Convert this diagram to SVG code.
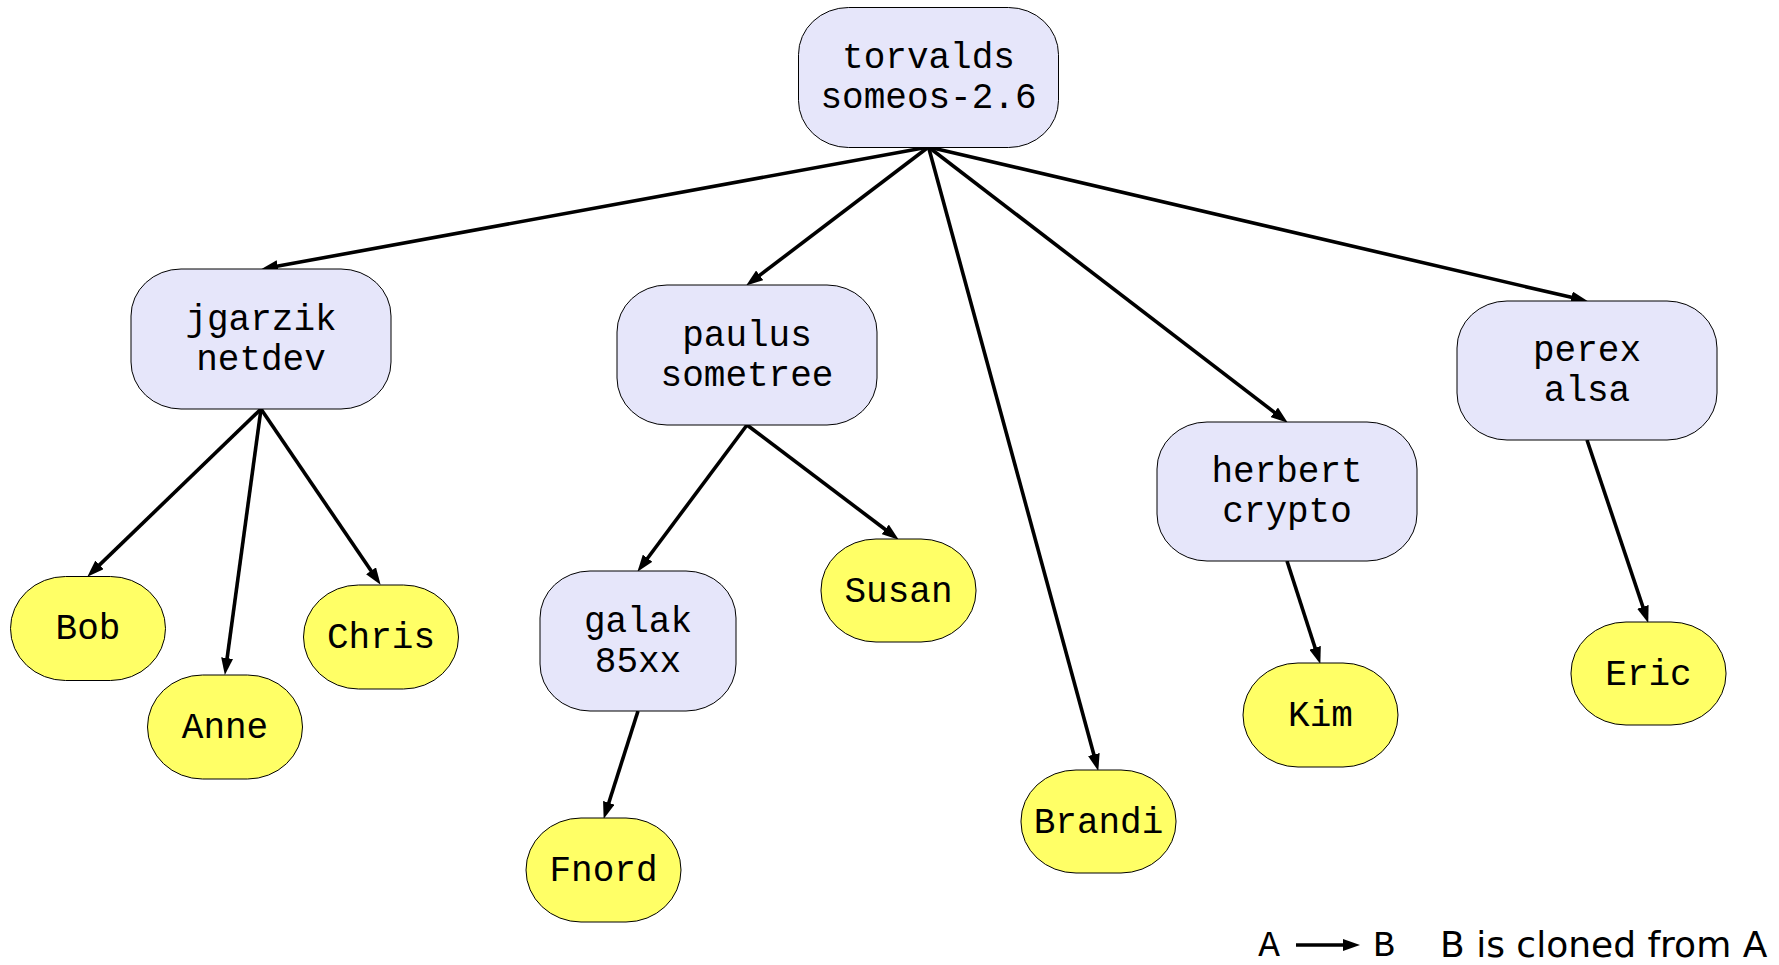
<svg xmlns="http://www.w3.org/2000/svg" width="1779" height="965" viewBox="0 0 1779 965">
<style>
.b{fill:#e6e6fa;stroke:#000;stroke-width:1}
.y{fill:#ffff66;stroke:#000;stroke-width:1}
.t{font-family:"Liberation Mono","DejaVu Sans Mono",monospace;font-size:36px;fill:#000;text-anchor:middle}
.e{fill:none;stroke:#000;stroke-width:3.6}
.l{font-family:"DejaVu Sans","Liberation Sans",sans-serif;font-size:36px;fill:#000}
</style>
<defs>
<marker id="ah" viewBox="0 0 17 12" refX="1" refY="6" markerWidth="17" markerHeight="12" markerUnits="userSpaceOnUse" orient="auto">
<path d="M0,0 L17,6 L0,12 z" fill="#000"/>
</marker>
</defs>
<rect width="1779" height="965" fill="#fff"/>
<g id="connectors">
<line class="e" x1="928.5" y1="147" x2="276.8" y2="266.3" marker-end="url(#ah)"/>
<line class="e" x1="928.5" y1="147" x2="758.9" y2="275.9" marker-end="url(#ah)"/>
<line class="e" x1="928.5" y1="147" x2="1094.1" y2="755.5" marker-end="url(#ah)"/>
<line class="e" x1="928.5" y1="147" x2="1275.1" y2="412.9" marker-end="url(#ah)"/>
<line class="e" x1="928.5" y1="147" x2="1572.4" y2="297.6" marker-end="url(#ah)"/>
<line class="e" x1="261" y1="409" x2="98.8" y2="565.6" marker-end="url(#ah)"/>
<line class="e" x1="261" y1="409" x2="227" y2="659.1" marker-end="url(#ah)"/>
<line class="e" x1="261" y1="409" x2="371.6" y2="571.6" marker-end="url(#ah)"/>
<line class="e" x1="747" y1="425" x2="647" y2="559" marker-end="url(#ah)"/>
<line class="e" x1="747" y1="425" x2="886" y2="530" marker-end="url(#ah)"/>
<line class="e" x1="638" y1="711" x2="608.5" y2="803.7" marker-end="url(#ah)"/>
<line class="e" x1="1287" y1="561" x2="1315.4" y2="648.7" marker-end="url(#ah)"/>
<line class="e" x1="1587" y1="440" x2="1643.2" y2="607.8" marker-end="url(#ah)"/>
</g>
<g id="torvalds"><rect class="b" x="798.5" y="7.5" width="260" height="140" rx="50" ry="47"/><text class="t" x="928.5" y="68">torvalds</text><text class="t" x="928.5" y="108">someos-2.6</text></g>
<g id="jgarzik"><rect class="b" x="131" y="269" width="260" height="140" rx="50" ry="47"/><text class="t" x="261" y="330">jgarzik</text><text class="t" x="261" y="370">netdev</text></g>
<g id="paulus"><rect class="b" x="617" y="285" width="260" height="140" rx="50" ry="47"/><text class="t" x="747" y="346">paulus</text><text class="t" x="747" y="386">sometree</text></g>
<g id="herbert"><rect class="b" x="1157" y="422" width="260" height="139" rx="50" ry="47"/><text class="t" x="1287" y="482">herbert</text><text class="t" x="1287" y="522">crypto</text></g>
<g id="perex"><rect class="b" x="1457" y="301" width="260" height="139" rx="50" ry="47"/><text class="t" x="1587" y="361">perex</text><text class="t" x="1587" y="401">alsa</text></g>
<g id="galak"><rect class="b" x="540" y="571" width="196" height="140" rx="50" ry="47"/><text class="t" x="638" y="632">galak</text><text class="t" x="638" y="672">85xx</text></g>
<g id="Bob"><rect class="y" x="10.5" y="576.5" width="155" height="104" rx="55" ry="52"/><text class="t" x="88" y="639">Bob</text></g>
<g id="Anne"><rect class="y" x="147.5" y="675" width="155" height="104" rx="55" ry="52"/><text class="t" x="225" y="738">Anne</text></g>
<g id="Chris"><rect class="y" x="303.5" y="585" width="155" height="104" rx="55" ry="52"/><text class="t" x="381" y="648">Chris</text></g>
<g id="Fnord"><rect class="y" x="526" y="818" width="155" height="104" rx="55" ry="52"/><text class="t" x="603.5" y="881">Fnord</text></g>
<g id="Susan"><rect class="y" x="821" y="539" width="155" height="103" rx="55" ry="51"/><text class="t" x="898.5" y="602">Susan</text></g>
<g id="Brandi"><rect class="y" x="1021" y="770" width="155" height="103" rx="55" ry="51"/><text class="t" x="1098.5" y="833">Brandi</text></g>
<g id="Kim"><rect class="y" x="1243" y="663" width="155" height="104" rx="55" ry="52"/><text class="t" x="1320.5" y="726">Kim</text></g>
<g id="Eric"><rect class="y" x="1571" y="622" width="155" height="103" rx="55" ry="51"/><text class="t" x="1648.5" y="685">Eric</text></g>
<g id="legend">
<text class="t" x="1269" y="956">A</text>
<line class="e" x1="1296" y1="945" x2="1344" y2="945" marker-end="url(#ah)"/>
<text class="t" x="1384" y="956">B</text>
<text class="l" x="1440" y="957">B is cloned from A</text>
</g>
</svg>
